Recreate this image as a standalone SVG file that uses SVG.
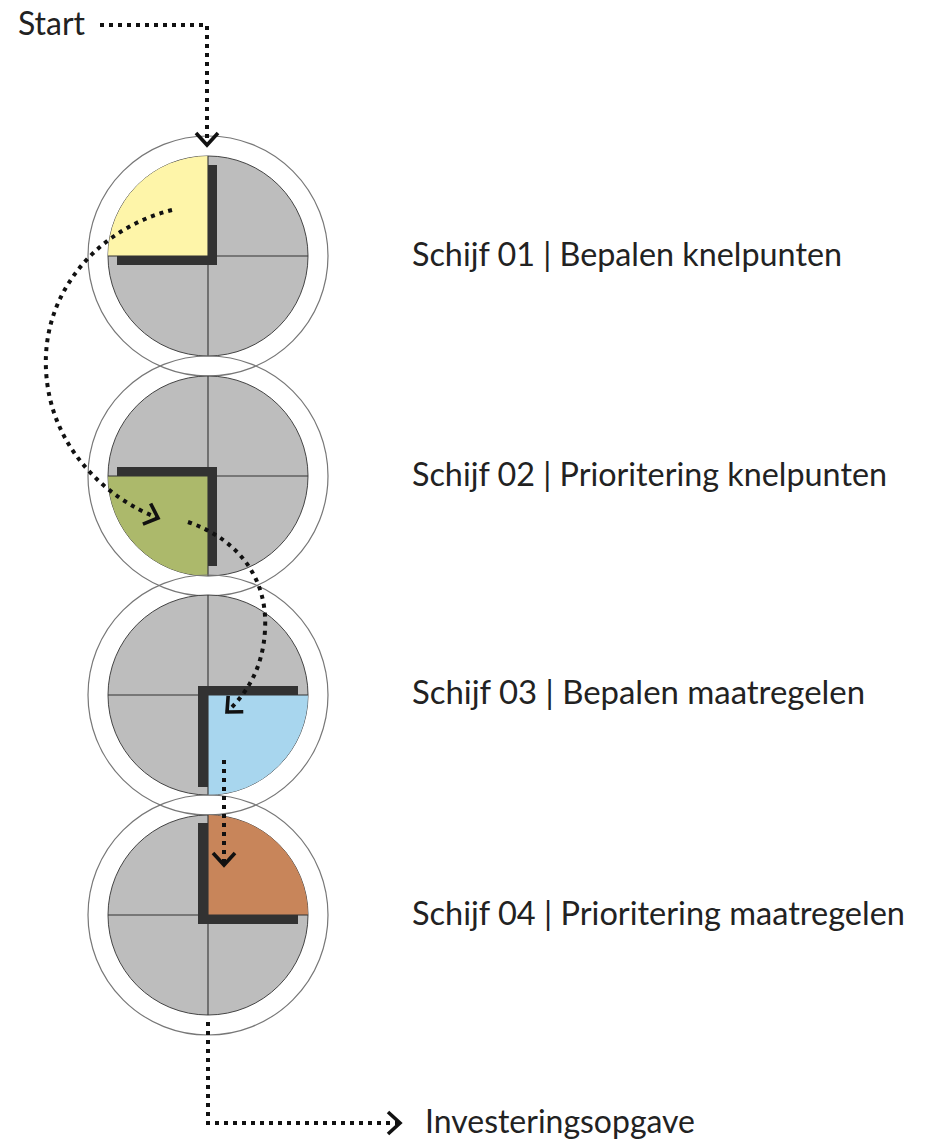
<svg xmlns="http://www.w3.org/2000/svg" width="928" height="1142" viewBox="0 0 928 1142">
<style>
.ring{fill:none;stroke:#777;stroke-width:1.2}
.disk{fill:#bdbdbd;stroke:#444;stroke-width:1}
.axis{stroke:#333;stroke-width:1.1;fill:none}
.shadow{fill:#333;filter:url(#blur)}
.lbl{font-family:Lato,"Open Sans",sans-serif;font-size:32.5px;fill:#222}
.dot{fill:none;stroke:#111;stroke-width:4;stroke-dasharray:4 5}
</style>
<defs>
<filter id="blur" x="-10%" y="-10%" width="120%" height="120%"><feGaussianBlur stdDeviation="0.7"/></filter>
<marker id="chev" markerUnits="userSpaceOnUse" markerWidth="30" markerHeight="30" viewBox="-15 -15 30 30" refX="0" refY="0" orient="auto">
<path d="M-12,-11 L0,0 L-12,11" fill="none" stroke="#111" stroke-width="3.6"/>
</marker>
</defs>
<rect width="928" height="1142" fill="#fff"/>
<g id="disk1">
<circle class="ring" cx="208" cy="256" r="120"/>
<circle class="disk" cx="208" cy="256" r="100"/>
<path d="M208,256 L108,256 A100,100 0 0 1 208,156 Z" fill="#fef5a9"/>
<path class="axis" d="M108,256 H308 M208,156 V356"/>
<path class="shadow" d="M208,165 h9 v100 h-100 v-9 h91 Z"/>
<text class="lbl" x="412" y="266" textLength="430" lengthAdjust="spacingAndGlyphs">Schijf 01 | Bepalen knelpunten</text>
</g>
<g id="disk2">
<circle class="ring" cx="208" cy="476" r="120"/>
<circle class="disk" cx="208" cy="476" r="100"/>
<path d="M208,476 L108,476 A100,100 0 0 0 208,576 Z" fill="#acb96b"/>
<path class="axis" d="M108,476 H308 M208,376 V576"/>
<path class="shadow" d="M117,467 h100 v99 h-9 v-90 h-91 Z"/>
<text class="lbl" x="412" y="486" textLength="475" lengthAdjust="spacingAndGlyphs">Schijf 02 | Prioritering knelpunten</text>
</g>
<g id="disk3">
<circle class="ring" cx="208" cy="695" r="120"/>
<circle class="disk" cx="208" cy="695" r="100"/>
<path d="M208,695 L308,695 A100,100 0 0 1 208,795 Z" fill="#a8d6ee"/>
<path class="axis" d="M108,695 H308 M208,595 V795"/>
<path class="shadow" d="M198,686 h100 v9 h-90 v92 h-10 Z"/>
<text class="lbl" x="412" y="704" textLength="453" lengthAdjust="spacingAndGlyphs">Schijf 03 | Bepalen maatregelen</text>
</g>
<g id="disk4">
<circle class="ring" cx="208" cy="915" r="120"/>
<circle class="disk" cx="208" cy="915" r="100"/>
<path d="M208,915 L208,815 A100,100 0 0 1 308,915 Z" fill="#c8855a"/>
<path class="axis" d="M108,915 H308 M208,815 V1015"/>
<path class="shadow" d="M198,823 h10 v92 h90 v9 h-100 Z"/>
<text class="lbl" x="412" y="925" textLength="493" lengthAdjust="spacingAndGlyphs">Schijf 04 | Prioritering maatregelen</text>
</g>
<g id="start">
<text class="lbl" x="18" y="35" textLength="67" lengthAdjust="spacingAndGlyphs">Start</text>
</g>
<g id="end">
<text class="lbl" x="425" y="1133" textLength="270" lengthAdjust="spacingAndGlyphs">Investeringsopgave</text>
</g>
<g id="connectors">
<path class="dot" d="M100,25 H207 V145" marker-end="url(#chev)"/>
<path class="dot" d="M172,210 C100,228 42,290 46,370 C50,450 110,500 158,518" marker-end="url(#chev)"/>
<path class="dot" d="M188,522 C240,540 268,580 265,630 C263,670 245,695 227,712" marker-end="url(#chev)"/>
<path class="dot" d="M224,760 V865" marker-end="url(#chev)"/>
<path class="dot" d="M208,1022 V1123 H400" marker-end="url(#chev)"/>
</g>
</svg>
